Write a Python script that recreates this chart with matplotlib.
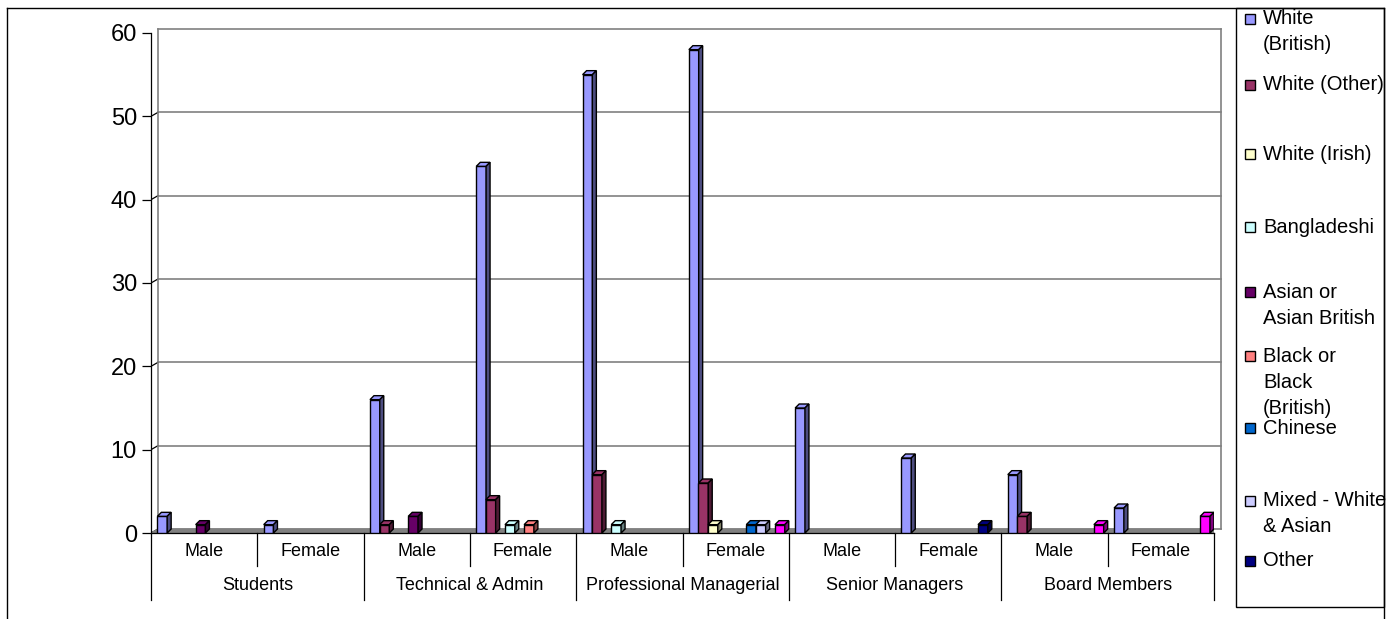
import matplotlib
matplotlib.use("Agg")
import matplotlib.pyplot as plt
from matplotlib.patches import Polygon, Rectangle
from matplotlib.lines import Line2D
from matplotlib.transforms import ScaledTranslation, IdentityTransform

plt.rcParams['font.family'] = ['Liberation Sans', 'DejaVu Sans']

# groups along the x axis
roles = ['Students', 'Technical & Admin', 'Professional Managerial',
         'Senior Managers', 'Board Members']
sexes = ['Male', 'Female']

# one list per ethnic group, 10 values = (role, sex) pairs
white_british = [2, 1, 16, 44, 55, 58, 15, 9, 7, 3]
white_other = [0, 0, 1, 4, 7, 6, 0, 0, 2, 0]
white_irish = [0, 0, 0, 0, 0, 1, 0, 0, 0, 0]
bangladeshi = [0, 0, 0, 1, 1, 0, 0, 0, 0, 0]
asian = [1, 0, 2, 0, 0, 0, 0, 0, 0, 0]
black = [0, 0, 0, 1, 0, 0, 0, 0, 0, 0]
chinese = [0, 0, 0, 0, 0, 1, 0, 0, 0, 0]
mixed = [0, 0, 0, 0, 0, 1, 0, 0, 0, 0]
other = [0, 0, 0, 0, 0, 0, 0, 1, 0, 0]
unlisted = [0, 0, 0, 0, 0, 1, 0, 0, 1, 2]  # magenta series, not in legend

series = [white_british, white_other, white_irish, bangladeshi, asian,
          black, chinese, mixed, other, unlisted]
names = ['White\n(British)', 'White (Other)', 'White (Irish)', 'Bangladeshi',
         'Asian or\nAsian British', 'Black or\nBlack\n(British)', 'Chinese',
         'Mixed - White\n& Asian', 'Other']
colors = ['#9999FF', '#993366', '#FFFFCC', '#CCFFFF', '#660066',
          '#FF8080', '#0066CC', '#CCCCFF', '#000080', '#FF00FF']

W, H = 1394, 619
fig = plt.figure(figsize=(W / 100, H / 100), dpi=100)


def fx(x):
    return x / W


def fy(y):
    return 1 - y / H


ax = fig.add_axes([fx(151), fy(533), (1214 - 151) / W, (533 - 33) / H])
ax.set_xlim(0, 10)
ax.set_ylim(0, 60)
ax.patch.set_visible(False)
for s in ['top', 'right']:
    ax.spines[s].set_visible(False)
ax.spines['left'].set_linewidth(0.9)
ax.spines['bottom'].set_linewidth(0.9)
ax.set_xticks([])
ax.set_yticks(range(0, 61, 10))
ax.tick_params(axis='y', length=6.5, width=0.9, pad=3.6, labelsize=17)

# pseudo 3D: back wall offset
DX, DY = 7, 4
back = ax.transData + ScaledTranslation(DX / 100, DY / 100, fig.dpi_scale_trans)
ident = IdentityTransform()

for v in range(0, 61, 10):
    ax.plot([0, 10], [v, v], transform=back, color='#808080', lw=1.2,
            clip_on=False, zorder=1)
    x0, y0 = ax.transData.transform((0, v))
    ax.add_line(Line2D([x0, x0 + DX], [y0, y0 + DY], transform=ident,
                       color='black', lw=0.9, zorder=1))
ax.plot([0, 0], [0, 60], transform=back, color='#808080', lw=1.2,
        clip_on=False, zorder=1)
ax.plot([10, 10], [0, 60], transform=back, color='#808080', lw=1.2,
        clip_on=False, zorder=1)

# floor
p0 = ax.transData.transform((0, 0))
p1 = ax.transData.transform((10, 0))
floor = Polygon([p0, p1, (p1[0] + DX, p1[1] + DY), (p0[0] + DX, p0[1] + DY)],
                closed=True, transform=ident, facecolor='#808080',
                edgecolor='#808080', lw=0.8, zorder=2)
ax.add_patch(floor)


def shade(c, f):
    r, g, b = matplotlib.colors.to_rgb(c)
    return (r * f, g * f, b * f)


# bars
bw = 0.092
d = 4
z = 3
for g in range(10):
    for k, vals in enumerate(series):
        v = vals[g]
        if v == 0:
            continue
        x0 = g + 0.06 + 0.09 * k
        ax.bar(x0, v, bw, align='edge', color=colors[k], edgecolor='black',
               lw=1.0, zorder=z)
        br = ax.transData.transform((x0 + bw, 0))
        tr = ax.transData.transform((x0 + bw, v))
        tl = ax.transData.transform((x0, v))
        top = Polygon([tl, tr, (tr[0] + d, tr[1] + d), (tl[0] + d, tl[1] + d)],
                      closed=True, transform=ident, facecolor=colors[k],
                      edgecolor='black', lw=1.0, zorder=z)
        side = Polygon([br, (br[0] + d, br[1] + d), (tr[0] + d, tr[1] + d), tr],
                       closed=True, transform=ident,
                       facecolor=shade(colors[k], 0.5),
                       edgecolor='black', lw=1.0, zorder=z)
        ax.add_patch(top)
        ax.add_patch(side)
        z += 1

# category axis labels
xt = ax.get_xaxis_transform()
for g in range(10):
    ax.text(g + 0.5, -0.038, sexes[g % 2], transform=xt, ha='center',
            va='center', fontsize=13)
for i, r in enumerate(roles):
    ax.text(2 * i + 1, -0.106, r, transform=xt, ha='center', va='center',
            fontsize=13)
for i in range(11):
    y_end = -0.134 if i % 2 == 0 else -0.066
    ax.plot([i, i], [0, y_end], transform=xt, color='black', lw=0.9,
            clip_on=False)

# outer frame
frame_kw = dict(color='black', lw=1.0, transform=fig.transFigure)
fig.add_artist(Line2D([fx(7), fx(7)], [fy(8), 0], **frame_kw))
fig.add_artist(Line2D([fx(7), fx(1384)], [fy(8), fy(8)], **frame_kw))
fig.add_artist(Line2D([fx(1384), fx(1384)], [fy(8), 0], **frame_kw))

# legend box
fig.add_artist(Rectangle((fx(1236), fy(607)), (1384 - 1236) / W, (607 - 8) / H,
                         transform=fig.transFigure, facecolor='none',
                         edgecolor='black', lw=1.0))
leg_y = [19, 85, 154, 227, 292, 356, 428, 501, 561]
for k, name in enumerate(names):
    y = leg_y[k]
    fig.add_artist(Rectangle((fx(1245), fy(y + 5)), 10 / W, 10 / H,
                             transform=fig.transFigure, facecolor=colors[k],
                             edgecolor='black', lw=1.0))
    for j, line in enumerate(name.split('\n')):
        fig.text(fx(1263), fy(y + 26 * j), line, ha='left', va='center',
                 fontsize=14.5)

fig.savefig('out.png', dpi=100)
